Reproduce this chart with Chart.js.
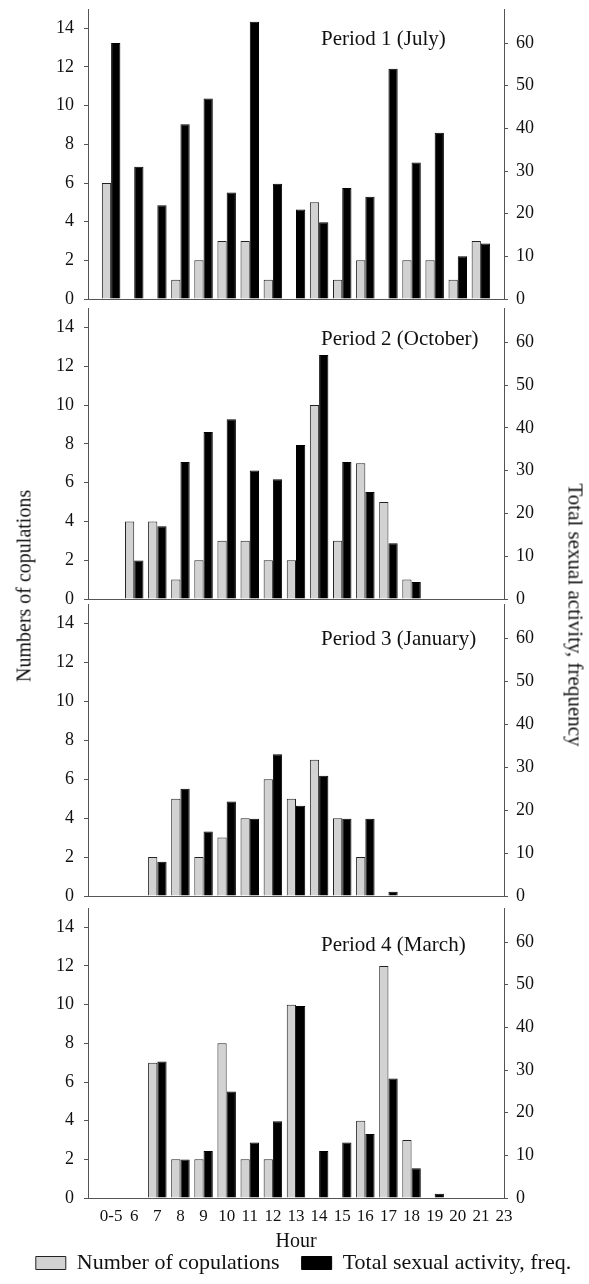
<!DOCTYPE html>
<html>
<head>
<meta charset="utf-8">
<script src="https://cdn.jsdelivr.net/npm/chart.js@4.4.1/dist/chart.umd.min.js"></script>
<style>
  body { margin: 0; background: #fff; width: 589px; height: 1284px; position: relative; overflow: hidden;
         font-family: "Liberation Serif", serif; color: #111; }
  canvas { position: absolute; left: 0; }
  .ytitle { position: absolute; font-size: 20px; white-space: nowrap; }
</style>
</head>
<body>
<canvas id="p1"></canvas>
<canvas id="p2"></canvas>
<canvas id="p3"></canvas>
<canvas id="p4"></canvas>
<div class="ytitle" style="left:24px;top:586px;transform:translate(-50%,-50%) rotate(-90deg)">Numbers of copulations</div>
<div class="ytitle" style="left:575px;top:615px;font-size:21px;transform:translate(-50%,-50%) rotate(90deg)">Total sexual activity, frequency</div>
<script>
// x categories (the last label has no bars)
const hourLabels = ["0-5", "6", "7", "8", "9", "10", "11", "12", "13", "14", "15", "16", "17", "18", "19", "20", "21", "23"];
const leftTicks = [0, 2, 4, 6, 8, 10, 12, 14];
const rightTicks = [0, 10, 20, 30, 40, 50, 60];
const periodNames = ["Period 1 (July)", "Period 2 (October)", "Period 3 (January)", "Period 4 (March)"];
const seriesNames = ["Number of copulations", "Total sexual activity, freq."];

// values for 0-5 ... 21
const copulationsJuly = [6, 0, 0, 1, 2, 3, 3, 1, 0, 5, 1, 2, 0, 2, 2, 1, 3];
const activityJuly    = [60, 31, 22, 41, 47, 25, 65, 27, 21, 18, 26, 24, 54, 32, 39, 10, 13];
const copulationsOct  = [0, 4, 4, 1, 2, 3, 3, 2, 2, 10, 3, 7, 5, 1, 0, 0, 0];
const activityOct     = [0, 9, 17, 32, 39, 42, 30, 28, 36, 57, 32, 25, 13, 4, 0, 0, 0];
const copulationsJan  = [0, 0, 2, 5, 2, 3, 4, 6, 5, 7, 4, 2, 0, 0, 0, 0, 0];
const activityJan     = [0, 0, 8, 25, 15, 22, 18, 33, 21, 28, 18, 18, 1, 0, 0, 0, 0];
const copulationsMar  = [0, 0, 7, 2, 2, 8, 2, 2, 10, 0, 0, 4, 12, 3, 0, 0, 0];
const activityMar     = [0, 0, 32, 9, 11, 25, 13, 18, 45, 11, 13, 15, 28, 7, 1, 0, 0];

Chart.defaults.font.family = '"Liberation Serif", serif';
Chart.defaults.color = "#111";

const axisColor = "#555";

// period caption inside the plot
const periodLabel = {
  id: "periodLabel",
  afterDatasetsDraw(chart, args, opts) {
    const { ctx, chartArea } = chart;
    ctx.save();
    ctx.font = '21px "Liberation Serif"';
    ctx.fillStyle = "#111";
    ctx.textBaseline = "middle";
    ctx.fillText(opts.text, 321, chartArea.top + opts.dy);
    ctx.restore();
  },
};

const panels = [
  { id: "p1", name: periodNames[0], cop: copulationsJuly, act: activityJuly, top: -3, height: 316, dy: 30 },
  { id: "p2", name: periodNames[1], cop: copulationsOct, act: activityOct, top: 296, height: 317, dy: 31 },
  { id: "p3", name: periodNames[2], cop: copulationsJan, act: activityJan, top: 592, height: 318, dy: 35 },
  { id: "p4", name: periodNames[3], cop: copulationsMar, act: activityMar, top: 896, height: 388, dy: 37, last: true },
];

panels.forEach((p) => {
  const canvas = document.getElementById(p.id);
  canvas.width = 589;
  canvas.height = p.height;
  canvas.style.top = p.top + "px";
  // bottom panel: shift the layout box so the legend sits a bit right of centre
  const shift = p.last ? 9 : 0;

  new Chart(canvas, {
    type: "bar",
    data: {
      labels: p.cop.map((v, i) => i),
      datasets: [
        {
          label: seriesNames[0],
          data: p.cop,
          yAxisID: "y",
          backgroundColor: "#d2d2d2",
          borderColor: "#222",
          borderWidth: 1,
        },
        {
          label: seriesNames[1],
          data: p.act,
          yAxisID: "y1",
          backgroundColor: "#000",
          borderColor: "#000",
          borderWidth: 1,
        },
      ],
    },
    options: {
      responsive: false,
      animation: false,
      devicePixelRatio: 1,
      categoryPercentage: 0.8,
      barPercentage: 1.0,
      layout: { padding: { top: 12, bottom: p.last ? 0 : 14, left: shift, right: -shift } },
      plugins: {
        tooltip: { enabled: false },
        periodLabel: { text: p.name, dy: p.dy },
        legend: {
          display: !!p.last,
          position: "bottom",
          labels: { boxWidth: 30, boxHeight: 13, padding: 22, font: { size: 22 }, color: "#111" },
        },
      },
      scales: {
        x: {
          type: "linear",
          offset: false,
          bounds: "data",
          min: -1,
          max: hourLabels.length - 1,
          grid: { display: false, drawTicks: false },
          border: { display: true, color: axisColor, z: 1 },
          afterBuildTicks: (s) => { s.ticks = hourLabels.map((h, i) => ({ value: i })); },
          afterFit: (s) => { if (p.last) s.height = 32; },
          ticks: {
            display: !!p.last,
            autoSkip: false,
            maxRotation: 0,
            padding: 8,
            font: { size: 17 },
            callback: (v) => hourLabels[v],
          },
          title: {
            display: !!p.last,
            text: "Hour",
            font: { size: 20 },
            padding: { top: 0, bottom: -24 },
          },
        },
        y: {
          position: "left",
          min: 0,
          max: 15,
          bounds: "data",
          afterBuildTicks: (s) => { s.ticks = leftTicks.map((v) => ({ value: v })); },
          afterFit: (s) => { s.width = 88 - shift; s.paddingTop = 0; s.paddingBottom = 0; },
          grid: { drawOnChartArea: false, drawTicks: true, tickLength: 4, color: axisColor },
          border: { color: axisColor },
          ticks: { padding: 10, font: { size: 18 } },
        },
        y1: {
          position: "right",
          min: 0,
          max: 68,
          bounds: "data",
          afterBuildTicks: (s) => { s.ticks = rightTicks.map((v) => ({ value: v })); },
          afterFit: (s) => { s.width = 85 + shift; s.paddingTop = 0; s.paddingBottom = 0; },
          grid: { drawOnChartArea: false, drawTicks: true, tickLength: 4, color: axisColor },
          border: { color: axisColor },
          ticks: { padding: 8, font: { size: 18 } },
        },
      },
    },
    plugins: [periodLabel],
  });
});
</script>
</body>
</html>
